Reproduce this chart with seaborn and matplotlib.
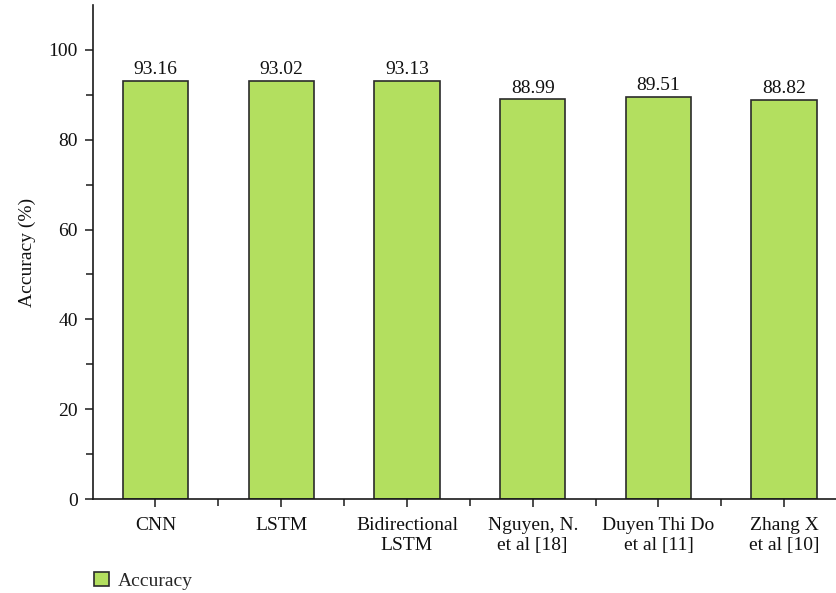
import matplotlib
matplotlib.use("Agg")
import matplotlib.pyplot as plt
import seaborn as sns
import pandas as pd
from matplotlib.ticker import FixedLocator

# Données
methodes = ["CNN", "LSTM", "Bidirectional\nLSTM", "Nguyen, N.\net al [18]",
            "Duyen Thi Do\net al [11]", "Zhang X\net al [10]"]
precision = [93.16, 93.02, 93.13, 88.99, 89.51, 88.82]
etiquettes = ["93.16", "93.02", "93.13", "88.99", "89.51", "88.82"]

df = pd.DataFrame({"methode": methodes, "Accuracy": precision})

sns.set_style("ticks")
plt.rcParams["font.family"] = ["Liberation Serif", "DejaVu Serif"]
plt.rcParams["font.size"] = 14

fig = plt.figure(figsize=(8.37, 5.93), dpi=100)
ax = fig.add_axes([93 / 837, 1 - 499 / 593, 1 - 93 / 837, (499 - 5) / 593])

sns.barplot(data=df, x="methode", y="Accuracy", color="#b3df5f",
            saturation=1, width=0.52, edgecolor="#2b2b2b", linewidth=1.2,
            ax=ax, label="Accuracy")

ax.bar_label(ax.containers[0], labels=etiquettes, padding=2, fontsize=14,
             color="#111111")

ax.set_ylim(0, 110)
ax.set_xlim(-0.497, 5.42)
ax.yaxis.set_major_locator(FixedLocator([0, 20, 40, 60, 80, 100]))
ax.yaxis.set_minor_locator(FixedLocator([10, 30, 50, 70, 90]))
ax.xaxis.set_minor_locator(FixedLocator([-0.5, 0.5, 1.5, 2.5, 3.5, 4.5]))
ax.tick_params(axis="both", which="both", direction="out", color="#1a1a1a",
               width=1.1, labelsize=14, labelcolor="#111111")
ax.tick_params(axis="both", which="major", length=6)
ax.tick_params(axis="both", which="minor", length=5)
ax.tick_params(axis="x", pad=7)
ax.tick_params(axis="y", pad=5)

ax.set_xlabel("")
ax.set_ylabel("Accuracy (%)", fontsize=14, labelpad=9, color="#111111")
sns.despine(ax=ax)
for s in ("left", "bottom"):
    ax.spines[s].set_linewidth(1.2)
    ax.spines[s].set_color("#1a1a1a")

if ax.legend_:
    ax.legend_.remove()
fig.legend(*ax.get_legend_handles_labels(), loc="lower left",
           bbox_to_anchor=(76 / 837, -0.024), frameon=False, fontsize=14,
           handlelength=0.8, handleheight=0.8, handletextpad=0.45)

fig.savefig("out.png", dpi=100)
